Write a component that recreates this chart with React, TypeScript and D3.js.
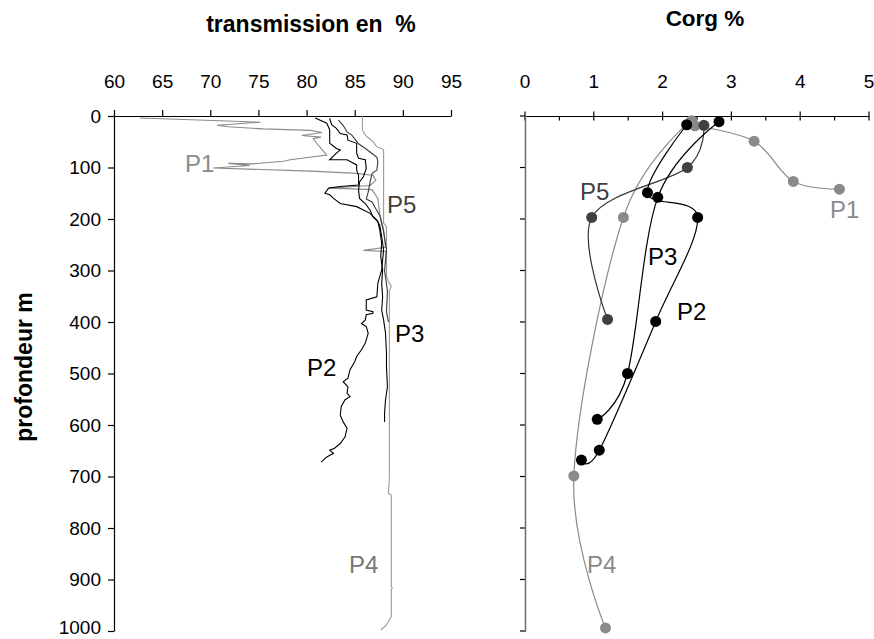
import React, { useEffect, useRef } from 'react';
import * as d3 from 'd3';

// axis ticks
const transTicks = [60, 65, 70, 75, 80, 85, 90, 95];
const corgTicks = [0, 1, 2, 3, 4, 5];
const corgMinorTicks = [0.5, 1.5, 2.5, 3.5, 4.5];
const depthTicks = [0, 100, 200, 300, 400, 500, 600, 700, 800, 900, 1000];

// transmission profiles: [transmission %, depth m]
const transP1 = [
  [62.7, 4], [75.2, 12], [70.7, 18], [71.9, 21], [75.5, 25], [80.4, 28], [81.6, 32], [79.5, 38], [81.5, 41],
  [80.7, 44], [81.0, 52], [82.1, 76], [78.3, 85], [77.6, 88], [74.4, 93], [71.9, 92], [74.1, 96], [70.3, 101],
  [80.4, 107], [84.8, 111], [86.9, 115], [87.2, 125], [86.6, 135], [82.4, 140], [86.8, 143], [87.4, 160],
  [87.6, 190], [88.0, 220], [88.2, 255], [85.9, 261], [88.2, 263], [88.3, 275]
];
const transP2 = [
  [80.9, 4], [82.1, 14], [82.4, 27], [82.4, 53], [83.1, 63], [83.5, 66], [83.1, 72], [82.4, 85], [84.2, 85],
  [85.2, 95], [85.2, 105], [85.4, 115], [85.4, 134], [83.5, 137], [82.3, 140], [81.9, 150], [82.4, 153],
  [82.8, 160], [83.5, 170], [85.2, 176], [86.6, 189], [87.3, 202], [87.6, 212], [87.8, 234], [88.0, 260],
  [87.8, 299], [87.4, 325], [87.3, 351], [86.2, 357], [86.2, 377], [86.9, 380], [86.9, 383], [86.2, 386],
  [86.1, 396], [85.7, 403], [86.2, 409], [86.4, 422], [86.1, 441], [85.7, 454], [85.2, 467], [85.0, 477],
  [84.5, 493], [84.3, 509], [83.8, 516], [84.3, 526], [84.2, 538], [84.5, 545], [84.0, 551], [83.6, 564],
  [83.5, 581], [83.8, 594], [84.2, 606], [84.0, 623], [83.5, 636], [82.9, 645], [82.4, 649], [82.8, 655],
  [82.1, 662], [81.5, 672]
];
const transP3 = [
  [82.4, 4], [82.6, 17], [83.1, 24], [83.5, 34], [84.2, 37], [84.3, 47], [85.2, 53], [85.2, 72], [85.4, 82],
  [86.1, 85], [86.2, 102], [85.9, 118], [85.5, 128], [85.4, 144], [85.5, 160], [86.1, 170], [86.6, 183],
  [86.9, 196], [87.4, 205], [87.6, 221], [87.8, 247], [87.7, 273], [87.9, 299], [87.8, 325], [87.9, 351],
  [87.8, 377], [88.0, 396], [88.2, 422], [88.3, 461], [88.3, 487], [88.4, 526], [88.2, 551], [88.1, 577],
  [88.1, 594]
];
const transP4 = [
  [85.8, 0], [85.8, 27], [86.1, 37], [86.9, 50], [87.3, 60], [87.8, 63], [88.0, 66], [88.0, 208], [88.3, 215],
  [88.3, 312], [88.6, 325], [88.8, 330], [88.6, 340], [88.6, 700], [88.5, 733], [88.8, 736], [88.8, 914],
  [88.9, 916], [88.8, 920], [88.8, 972], [88.6, 978], [88.4, 985], [88.2, 990], [87.7, 998]
];
const transP5 = [
  [83.3, 8], [83.8, 18], [84.2, 31], [84.7, 37], [85.4, 54], [86.1, 63], [86.6, 70], [87.3, 80], [87.4, 89],
  [87.3, 105], [86.8, 112], [86.6, 128], [86.4, 148], [86.2, 161], [86.8, 167], [87.1, 177], [87.6, 193],
  [88.0, 225], [88.3, 260], [88.1, 300], [88.4, 340], [88.3, 380], [88.5, 400]
];

// organic carbon: [Corg %, depth m]
const corgP1 = [[2.47, 19], [3.33, 49], [3.90, 127], [4.57, 142]];
const corgP2 = [[2.35, 17], [1.78, 149], [2.51, 197], [1.90, 399], [1.08, 649], [0.82, 668]];
const corgP3 = [[2.82, 11], [1.93, 158], [1.49, 500], [1.05, 589]];
const corgP4 = [[2.42, 9], [1.43, 197], [0.71, 699], [1.17, 994]];
const corgP5 = [[2.60, 18], [2.36, 100], [0.97, 197], [1.20, 395]];

const FONT = '"Liberation Sans", Arial, sans-serif';

function drawChart(el) {
  const svg = d3.select(el);
  svg.selectAll('*').remove();

  const y = d3.scaleLinear().domain([0, 1000]).range([116, 631]);
  const xT = d3.scaleLinear().domain([60, 95]).range([114, 451]);
  const xC = d3.scaleLinear().domain([0, 5]).range([525, 869]);

  // titles
  svg.append('text').attr('x', 311).attr('y', 31.5).attr('text-anchor', 'middle')
    .attr('font-weight', 'bold').attr('font-size', 23).style('white-space', 'pre')
    .text('transmission en  %');
  svg.append('text').attr('x', 705).attr('y', 26).attr('text-anchor', 'middle')
    .attr('font-weight', 'bold').attr('font-size', 22.5).text('Corg %');
  svg.append('text').attr('transform', 'translate(32,367) rotate(-90)').attr('text-anchor', 'middle')
    .attr('font-weight', 'bold').attr('font-size', 23).text('profondeur m');

  // left panel axes
  const gx = svg.append('g').attr('transform', 'translate(0,116)')
    .call(d3.axisTop(xT).tickValues(transTicks).tickSize(6).tickSizeOuter(0).tickPadding(22));
  const gy = svg.append('g').attr('transform', 'translate(114,0)')
    .call(d3.axisLeft(y).tickValues(depthTicks).tickFormat(d3.format('d'))
      .tickSize(6).tickSizeOuter(0).tickPadding(7));
  [gx, gy].forEach(g => {
    g.attr('font-size', 19).attr('font-family', FONT);
    g.selectAll('line, path').attr('stroke', '#000').attr('stroke-width', 1.2);
    g.selectAll('text').attr('fill', '#000');
  });
  // keep the bottom label inside the picture
  gy.selectAll('.tick text').filter(d => d === 1000).attr('dy', '0.14em');

  // right panel axes
  const gc = svg.append('g').attr('stroke', '#000').attr('stroke-width', 1.2);
  gc.append('line').attr('x1', 525).attr('x2', 869).attr('y1', 116.5).attr('y2', 116.5);
  gc.selectAll('.maj').data(corgTicks).join('line').attr('class', 'maj')
    .attr('x1', d => xC(d)).attr('x2', d => xC(d)).attr('y1', 111.5).attr('y2', 120.5);
  gc.selectAll('.min').data(corgMinorTicks).join('line').attr('class', 'min')
    .attr('x1', d => xC(d)).attr('x2', d => xC(d)).attr('y1', 116.5).attr('y2', 120.5);
  gc.selectAll('.yt').data(depthTicks).join('line').attr('class', 'yt')
    .attr('x1', 520).attr('x2', 525).attr('y1', d => y(d)).attr('y2', d => y(d));
  svg.append('line').attr('x1', 525.5).attr('x2', 525.5).attr('y1', 116).attr('y2', 632)
    .attr('stroke', '#6e6e6e').attr('stroke-width', 1.5);
  svg.append('g').selectAll('text').data(corgTicks).join('text')
    .attr('x', d => xC(d)).attr('y', 88).attr('text-anchor', 'middle').attr('font-size', 19)
    .text(d => d);

  // transmission profiles
  const lineT = d3.line().x(d => xT(d[0])).y(d => y(d[1]));
  const tSeries = [
    { data: transP4, color: '#9a9a9a' },
    { data: transP1, color: '#8a8a8a' },
    { data: transP5, color: '#3a3a3a' },
    { data: transP3, color: '#000' },
    { data: transP2, color: '#000' }
  ];
  svg.append('g').selectAll('path').data(tSeries).join('path')
    .attr('d', s => lineT(s.data)).attr('fill', 'none')
    .attr('stroke', s => s.color).attr('stroke-width', 1.1);

  // Corg profiles
  const lineC = d3.line().x(d => xC(d[0])).y(d => y(d[1])).curve(d3.curveCatmullRom.alpha(0));
  const cSeries = [
    { data: corgP4, color: '#8a8a8a', fill: '#8a8a8a' },
    { data: corgP1, color: '#8a8a8a', fill: '#8a8a8a' },
    { data: corgP5, color: '#333', fill: '#404040' },
    { data: corgP3, color: '#000', fill: '#000' },
    { data: corgP2, color: '#000', fill: '#000' }
  ];
  const gs = svg.append('g').selectAll('g').data(cSeries).join('g');
  gs.append('path').attr('d', s => lineC(s.data)).attr('fill', 'none')
    .attr('stroke', s => s.color).attr('stroke-width', 1.2);
  gs.selectAll('circle').data(s => s.data.map(d => ({ d, fill: s.fill }))).join('circle')
    .attr('cx', p => xC(p.d[0])).attr('cy', p => y(p.d[1])).attr('r', 5.5).attr('fill', p => p.fill);

  // series labels
  const labels = [
    { t: 'P1', x: 185, y: 172, c: '#8a8a8a' },
    { t: 'P5', x: 387, y: 213, c: '#404040' },
    { t: 'P3', x: 395, y: 342, c: '#000' },
    { t: 'P2', x: 307, y: 376, c: '#000' },
    { t: 'P4', x: 349, y: 573, c: '#777' },
    { t: 'P5', x: 580, y: 200, c: '#404040' },
    { t: 'P1', x: 830, y: 218, c: '#8a8a8a' },
    { t: 'P3', x: 648, y: 265, c: '#000' },
    { t: 'P2', x: 677, y: 320, c: '#000' },
    { t: 'P4', x: 587, y: 573, c: '#8a8a8a' }
  ];
  svg.append('g').selectAll('text').data(labels).join('text')
    .attr('x', l => l.x).attr('y', l => l.y).attr('font-size', 24).attr('fill', l => l.c)
    .text(l => l.t);
}

export default function App() {
  const ref = useRef(null);
  useEffect(() => {
    drawChart(ref.current);
  }, []);
  return (
    <svg ref={ref} width={874} height={639}
      style={{ position: 'absolute', left: 0, top: 0, background: '#fff', fontFamily: FONT }} />
  );
}
